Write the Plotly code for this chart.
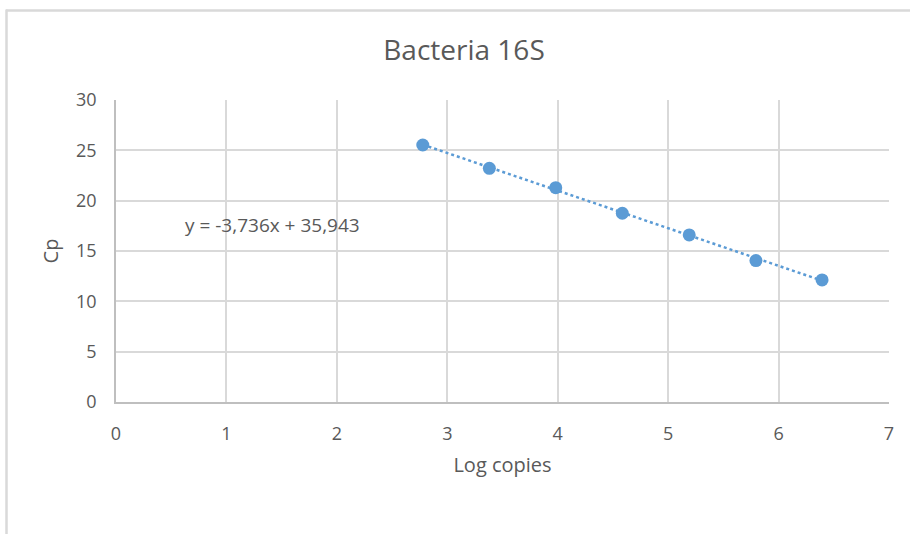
import plotly.graph_objects as go

# Standard curve: log copies vs crossing point
log_copies = [2.778, 3.381, 3.982, 4.585, 5.191, 5.795, 6.394]
cp_values = [25.53, 23.21, 21.29, 18.75, 16.60, 14.05, 12.13]

# Linear fit shown on the chart
slope = -3.736
intercept = 35.943
equation_text = "y = -3,736x + 35,943"

x_ticks = [0, 1, 2, 3, 4, 5, 6, 7]
y_ticks = [0, 5, 10, 15, 20, 25, 30]

BLUE = "#5b9bd5"
TEXT = "#595959"
GRID = "#d9d9d9"
FONT = "Open Sans, Liberation Sans, sans-serif"

W, H = 910, 534
ML, MR, MT, MB = 116, 21, 100, 132

fit_x = [min(log_copies), max(log_copies)]
fit_y = [slope * v + intercept for v in fit_x]

fig = go.Figure()
fig.add_trace(go.Scatter(
    x=fit_x, y=fit_y, mode="lines",
    line=dict(color=BLUE, width=2.5, dash="dot"),
    hoverinfo="skip", showlegend=False,
))
fig.add_trace(go.Scatter(
    x=log_copies, y=cp_values, mode="markers",
    marker=dict(color=BLUE, size=13, line=dict(width=0)),
    showlegend=False,
))

fig.add_annotation(
    x=0.61, y=17.6, xref="x", yref="y", text=equation_text,
    showarrow=False, xanchor="left", yanchor="middle",
    font=dict(family=FONT, size=19, color=TEXT),
)

# Outer chart frame (top and left edges)
pw = W - ML - MR
ph = H - MT - MB
def px_to_paper_x(px):
    return (px - ML) / pw
def px_to_paper_y(py):
    return (H - MB - py) / ph

frame = dict(color=GRID, width=2.5)
fig.add_shape(type="line", xref="paper", yref="paper",
              x0=px_to_paper_x(6), x1=px_to_paper_x(W),
              y0=px_to_paper_y(10.5), y1=px_to_paper_y(10.5), line=frame)
fig.add_shape(type="line", xref="paper", yref="paper",
              x0=px_to_paper_x(6.5), x1=px_to_paper_x(6.5),
              y0=px_to_paper_y(9.5), y1=px_to_paper_y(H), line=frame)

fig.update_layout(
    width=W, height=H,
    margin=dict(l=ML, r=MR, t=MT, b=MB),
    paper_bgcolor="white", plot_bgcolor="white",
    font=dict(family=FONT, color=TEXT),
    title=dict(text="Bacteria 16S", x=464 / W, xref="container", xanchor="center",
               y=1 - 50 / H, yref="container", yanchor="middle",
               font=dict(family=FONT, size=28, color=TEXT)),
    xaxis=dict(
        range=[0, 7], tickvals=x_ticks, ticktext=[str(v) for v in x_ticks],
        showgrid=True, gridcolor=GRID, gridwidth=1.5,
        showline=True, linecolor="#bfbfbf", linewidth=1.5,
        zeroline=False, ticks="", ticklabelstandoff=15,
        tickfont=dict(family=FONT, size=18, color=TEXT),
        title=dict(text="Log copies", standoff=14,
                   font=dict(family=FONT, size=20, color=TEXT)),
    ),
    yaxis=dict(
        range=[0, 30], tickvals=y_ticks, ticktext=[str(v) for v in y_ticks],
        showgrid=True, gridcolor=GRID, gridwidth=1.5,
        showline=True, linecolor="#bfbfbf", linewidth=1.5,
        zeroline=False, ticks="", ticklabelstandoff=14,
        tickfont=dict(family=FONT, size=18, color=TEXT),
        title=dict(text="Cp", standoff=12,
                   font=dict(family=FONT, size=20, color=TEXT)),
    ),
)

fig.write_html("out.html")
